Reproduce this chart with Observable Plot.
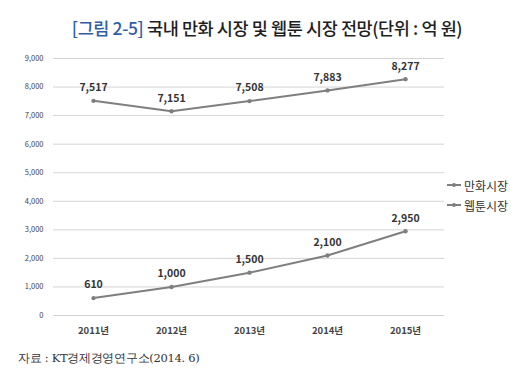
<!DOCTYPE html>
<html><head><meta charset="utf-8">
<script src="https://cdn.jsdelivr.net/npm/d3@7"></script>
<script src="https://cdn.jsdelivr.net/npm/@observablehq/plot@0.6"></script>
<style>
body{margin:0;background:#fff;font-family:"Noto Sans CJK KR",sans-serif;}
#wrap{position:relative;width:526px;height:384px;}
#title{position:absolute;top:15px;left:0;width:534px;text-align:center;font-size:17.5px;font-weight:500;color:#1e1e1e;letter-spacing:-0.4px;line-height:26px;}
#title span{color:#2f5ea6;}
#chart{position:absolute;top:40px;left:0;}
#legend{position:absolute;left:446px;top:175px;font-size:12px;color:#333;}
#legend div{display:flex;align-items:center;height:20px;}
#caption{position:absolute;top:351px;left:18px;font-family:"DejaVu Serif","Liberation Serif",serif;font-size:11.5px;color:#333;letter-spacing:-0.3px;}
</style></head><body>
<div id="wrap">
<div id="title"><span>[그림 2-5]</span> 국내 만화 시장 및 웹툰 시장 전망(단위 : 억 원)</div>
<div id="chart"></div>
<div id="legend"></div>
<div id="caption">자료 : KT경제경영연구소(2014. 6)</div>
</div>
<script>
const years = ["2011년","2012년","2013년","2014년","2015년"];
const comics = [7517, 7151, 7508, 7883, 8277];
const webtoon = [610, 1000, 1500, 2100, 2950];
const seriesNames = ["만화시장","웹툰시장"];
const yTicks = [0,1000,2000,3000,4000,5000,6000,7000,8000,9000];

const data = [];
years.forEach((y,i)=>{
  data.push({year:y, value:comics[i], series:seriesNames[0]});
  data.push({year:y, value:webtoon[i], series:seriesNames[1]});
});
const color = "#7f7f7f";
const fmt = d3.format(",");

const plot = Plot.plot({
  width: 526, height: 305,
  marginTop: 18, marginBottom: 30, marginLeft: 53, marginRight: 82,
  style:{fontFamily:"Noto Sans CJK KR, sans-serif", color:"#333", overflow:"visible"},
  x:{type:"point", domain: years, padding:0.5, label:null},
  y:{domain:[0,9000], label:null},
  marks:[
    Plot.gridY(yTicks, {stroke:"#d4d4d4", strokeOpacity:1, strokeWidth:1}),
    Plot.axisY(yTicks, {tickSize:0, tickPadding:10, tickFormat:fmt, fontSize:7.5, fill:"#444"}),
    Plot.axisX({tickSize:0, tickPadding:12, fontSize:9.5, fontWeight:"bold", fill:"#444"}),
    Plot.line(data, {x:"year", y:"value", z:"series", stroke:color, strokeWidth:2}),
    Plot.dot(data, {x:"year", y:"value", fill:color, r:2.2}),
    Plot.text(data, {x:"year", y:"value", text:d=>fmt(d.value), dy:-13, fontSize:10.5, fontWeight:"bold", fill:"#333"})
  ]
});
document.getElementById("chart").appendChild(plot);

const leg = document.getElementById("legend");
seriesNames.forEach(n=>{
  const row = document.createElement("div");
  row.innerHTML = `<svg width="16" height="8"><line x1="1" y1="4" x2="15" y2="4" stroke="${color}" stroke-width="2"/><circle cx="8" cy="4" r="2" fill="${color}"/></svg><span style="margin-left:2px">${n}</span>`;
  leg.appendChild(row);
});
</script>
</body></html>
